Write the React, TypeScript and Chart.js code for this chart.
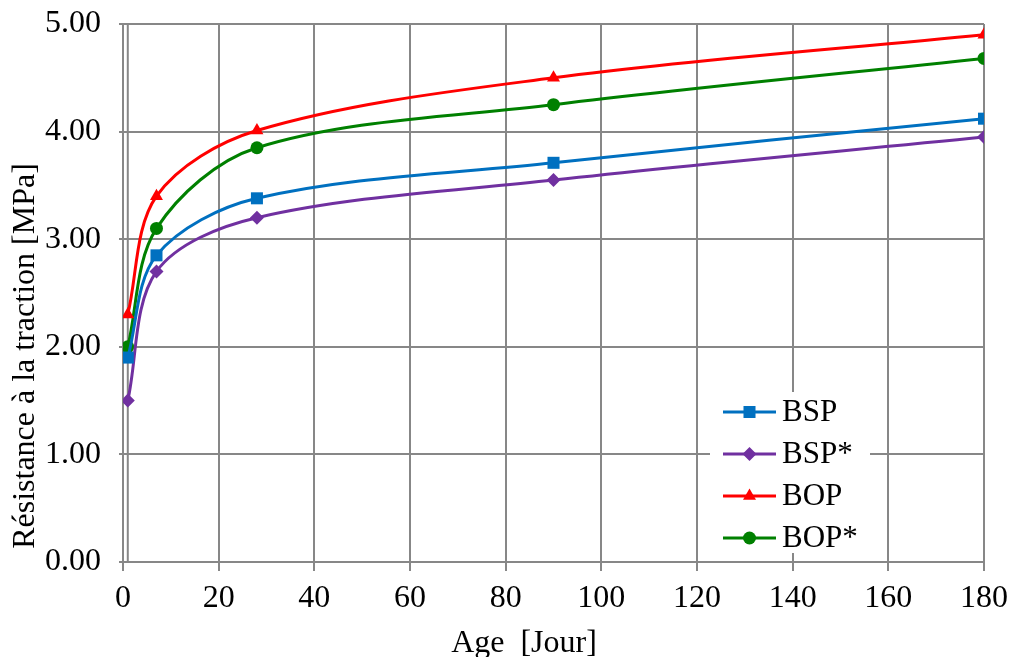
import React, { useEffect, useRef } from 'react';
import { Chart, registerables } from 'chart.js';

Chart.register(...registerables);

const ages = [1, 7, 28, 90, 180];
const bsp = [1.9, 2.85, 3.38, 3.71, 4.12];
const bspStar = [1.5, 2.7, 3.2, 3.55, 3.95];
const bop = [2.3, 3.4, 4.01, 4.5, 4.9];
const bopStar = [2.0, 3.1, 3.85, 4.25, 4.68];
const seriesLabels = ['BSP', 'BSP*', 'BOP', 'BOP*'];
const seriesColors = ['#0070C0', '#7030A0', '#FF0000', '#008000'];
const seriesMarkers = ['rect', 'rectRot', 'triangle', 'circle'];
const markerRadii = [8.5, 7, 7.5, 6.5];
const xTitle = 'Age  [Jour]';
const yTitle = 'Résistance à la traction [MPa]';

const FONT = '"Liberation Serif", "Times New Roman", serif';
const GRID = '#878787';

function drawMarker(ctx: CanvasRenderingContext2D, style: string, x: number, y: number, r: number, color: string) {
  ctx.save();
  ctx.fillStyle = color;
  ctx.beginPath();
  if (style === 'rect') {
    const s = Math.SQRT1_2 * r;
    ctx.rect(x - s, y - s, 2 * s, 2 * s);
  } else if (style === 'rectRot') {
    ctx.moveTo(x, y - r);
    ctx.lineTo(x + r, y);
    ctx.lineTo(x, y + r);
    ctx.lineTo(x - r, y);
    ctx.closePath();
  } else if (style === 'triangle') {
    const e = (3 * r) / Math.sqrt(3);
    const h = (e * Math.sqrt(3)) / 2;
    ctx.moveTo(x, y - (2 * h) / 3);
    ctx.lineTo(x + e / 2, y + h / 3);
    ctx.lineTo(x - e / 2, y + h / 3);
    ctx.closePath();
  } else {
    ctx.arc(x, y, r, 0, Math.PI * 2);
  }
  ctx.fill();
  ctx.restore();
}

const overlayPlugin = {
  id: 'overlay',
  beforeDatasetsDraw(chart: any) {
    const { ctx, chartArea, scales } = chart;
    const x1 = scales.x.getPixelForValue(1);
    ctx.save();
    ctx.strokeStyle = GRID;
    ctx.lineWidth = 2;
    ctx.beginPath();
    ctx.moveTo(x1, chartArea.top);
    ctx.lineTo(x1, chartArea.bottom);
    ctx.stroke();

    // legend box inside plot area
    const bx = chartArea.right - 274;
    const by = chartArea.bottom - 170;
    ctx.fillStyle = '#ffffff';
    ctx.fillRect(bx, by, 160, 161);
    const rowOffsets = [150, 108, 66, 24];
    seriesLabels.forEach((label, i) => {
      const y = chartArea.bottom - rowOffsets[i];
      const lx0 = bx + 13;
      const lx1 = bx + 66;
      ctx.strokeStyle = seriesColors[i];
      ctx.lineWidth = 3;
      ctx.beginPath();
      ctx.moveTo(lx0, y);
      ctx.lineTo(lx1, y);
      ctx.stroke();
      drawMarker(ctx, seriesMarkers[i], (lx0 + lx1) / 2, y, markerRadii[i], seriesColors[i]);
      ctx.fillStyle = '#000';
      ctx.font = `31px ${FONT}`;
      ctx.textAlign = 'left';
      ctx.textBaseline = 'middle';
      ctx.fillText(label, bx + 72, y + 1);
    });
    ctx.restore();
  },
  afterDraw(chart: any) {
    const { ctx } = chart;
    ctx.save();
    ctx.fillStyle = '#000';
    ctx.font = `32px ${FONT}`;
    ctx.textAlign = 'center';
    ctx.textBaseline = 'alphabetic';
    ctx.fillText(xTitle, 524, 652);
    ctx.translate(34, 356);
    ctx.rotate(-Math.PI / 2);
    ctx.fillText(yTitle, 0, 0);
    ctx.restore();
  },
};

export default function App() {
  const ref = useRef<HTMLCanvasElement>(null);
  useEffect(() => {
    if (!ref.current) return;
    const data = [bsp, bspStar, bop, bopStar];
    const chart = new Chart(ref.current, {
      type: 'line',
      data: {
        datasets: seriesLabels.map((label, i) => ({
          label,
          data: ages.map((a, j) => ({ x: a, y: data[i][j] })),
          borderColor: seriesColors[i],
          backgroundColor: seriesColors[i],
          borderWidth: 3,
          pointStyle: seriesMarkers[i] as any,
          pointRadius: markerRadii[i],
          pointBorderWidth: 0,
          tension: 0.33,
          fill: false,
        })),
      },
      options: {
        animation: false,
        responsive: false,
        devicePixelRatio: 1,
        layout: { padding: { top: 24, right: 25, left: 0, bottom: 0 } },
        plugins: { legend: { display: false }, tooltip: { enabled: false } },
        scales: {
          x: {
            type: 'linear',
            min: 0,
            max: 180,
            ticks: {
              stepSize: 20,
              color: '#000',
              font: { family: FONT, size: 32 },
              padding: 8,
              maxRotation: 0,
            },
            grid: { color: GRID, lineWidth: 2, tickLength: 9 },
            border: { display: false },
            afterFit: (s: any) => {
              s.height = 95;
              s.paddingLeft = 0;
              s.paddingRight = 0;
              s.paddingTop = 0;
              s.paddingBottom = 0;
            },
          },
          y: {
            type: 'linear',
            min: 0,
            max: 5,
            ticks: {
              stepSize: 1,
              color: '#000',
              font: { family: FONT, size: 32 },
              padding: 18,
              callback: (v: any) => Number(v).toFixed(2),
            },
            grid: { color: GRID, lineWidth: 2, tickLength: 4 },
            border: { display: false },
            afterFit: (s: any) => {
              s.width = 123;
              s.paddingLeft = 0;
              s.paddingRight = 0;
              s.paddingTop = 0;
              s.paddingBottom = 0;
            },
          },
        },
      },
      plugins: [overlayPlugin],
    });
    return () => chart.destroy();
  }, []);
  return (
    <div style={{ position: 'fixed', left: 0, top: 0, width: 1009, height: 657, background: '#fff' }}>
      <canvas ref={ref} width={1009} height={657} />
    </div>
  );
}
